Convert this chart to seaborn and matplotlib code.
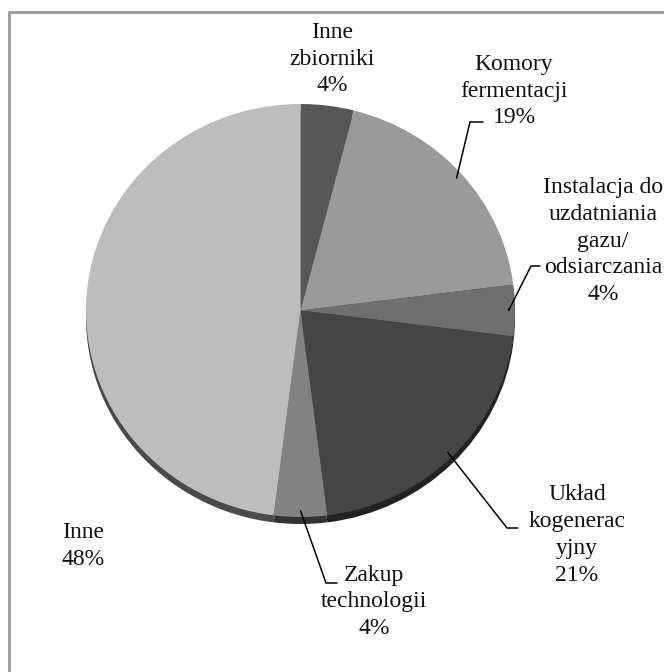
import numpy as np
import matplotlib
matplotlib.use("Agg")
import matplotlib.pyplot as plt
import seaborn as sns
from matplotlib.lines import Line2D

sns.set_theme(style="white")
plt.rcParams["font.family"] = ["Liberation Serif", "DejaVu Serif"]

# Cost structure of a biogas plant investment
categories = [
    "Inne\nzbiorniki",
    "Komory\nfermentacji",
    "Instalacja do\nuzdatniania\ngazu/\nodsiarczania",
    "Układ\nkogenerac\nyjny",
    "Zakup\ntechnologii",
    "Inne",
]
shares = [4, 19, 4, 21, 4, 48]
face_colors = ["#575757", "#9a9a9a", "#6f6f6f", "#454545", "#828282", "#bdbdbd"]
rim_colors = ["#3a3a3a", "#444444", "#3a3a3a", "#222222", "#333333", "#4a4a4a"]

W, H = 664, 672
fig = plt.figure(figsize=(W / 100, H / 100), dpi=100)
ax = fig.add_axes([0, 0, 1, 1])

# pixel geometry of the pie (slightly flattened, seen from above)
cx, cy, rx, ry = 300.5, 310.5, 214.5, 206.5

def px(x, y):
    return (x - cx) / rx, (cy - y) / ry

# darker rim to give the pie a little depth
rim_drop = 7 / ry
ax.pie(shares, colors=rim_colors, startangle=90, counterclock=False,
       center=(0, -rim_drop), radius=1.0, frame=True,
       wedgeprops=dict(linewidth=0))
wedges, _ = ax.pie(shares, colors=face_colors, startangle=90, counterclock=False,
                   center=(0, 0), radius=1.0, frame=True,
                   wedgeprops=dict(linewidth=0))

# label anchor (pixel centre of text block), leader elbow point, leader end
label_pos = [(332, 59), (514, 91), (603, 241), (577, 535), (374, 602), (83, 546)]
leaders = {
    1: ((483, 122), (470, 122)),
    2: ((540, 266), (531, 266)),
    3: ((518, 528), (507, 528)),
    4: ((337, 583), (326, 583)),
}

for i, (cat, val) in enumerate(zip(categories, shares)):
    x, y = px(*label_pos[i])
    ax.text(x, y, f"{cat}\n{val}%", ha="center", va="center",
            fontsize=17, linespacing=1.355, color="#111111")
    if i in leaders:
        w = wedges[i]
        mid = np.deg2rad((w.theta1 + w.theta2) / 2)
        ex, ey = np.cos(mid) * 0.97, np.sin(mid) * 0.97
        (a, b), (c, d) = leaders[i]
        x1, y1 = px(a, b)
        x2, y2 = px(c, d)
        ax.plot([x1, x2, ex], [y1, y2, ey], color="black", lw=1.1,
                solid_joinstyle="miter")

ax.set_xlim((0 - cx) / rx, (W - cx) / rx)
ax.set_ylim((cy - H) / ry, (cy - 0) / ry)
ax.set_aspect("auto")
ax.axis("off")

# chart-area border (top and left edges)
fig.add_artist(Line2D([8.5 / W, 8.5 / W], [0, 1 - 12 / H], color="#999999", lw=2,
                      transform=fig.transFigure))
fig.add_artist(Line2D([8.5 / W, 1], [1 - 12 / H, 1 - 12 / H], color="#999999", lw=2,
                      transform=fig.transFigure))

fig.savefig("out.png", dpi=100, facecolor="white")
